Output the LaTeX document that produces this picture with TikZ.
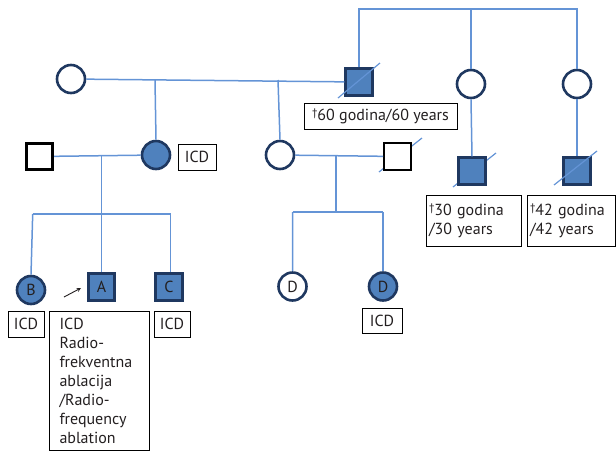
\documentclass[tikz,border=0pt]{standalone}
\usepackage{fontspec}
\setmainfont{PT Sans}
\definecolor{linec}{RGB}{100,148,214}
\definecolor{fillb}{RGB}{79,129,189}
\definecolor{navy}{RGB}{31,56,96}
\definecolor{txt}{RGB}{35,31,32}
\newcommand{\dg}{\raisebox{0.45ex}{\fontsize{11}{11}\selectfont †}}
\begin{document}
\begin{tikzpicture}[x=1pt,y=-1pt,
  conn/.style={draw=linec, line width=1.5pt},
  dec/.style={draw=linec, line width=1.2pt},
  fem/.style={circle, draw=navy, line width=2.6pt, minimum size=28pt, inner sep=0pt, fill=white, text=txt, font=\fontsize{16}{16}\selectfont},
  femA/.style={fem, fill=fillb},
  mal/.style={rectangle, draw=navy, line width=2.6pt, minimum size=26.5pt, inner sep=0pt, fill=white, text=txt, font=\fontsize{16}{16}\selectfont},
  malA/.style={mal, fill=fillb},
  lbl/.style={draw=black, line width=1pt, inner sep=0pt, text=txt, font=\fontsize{16}{19}\selectfont},
]
\useasboundingbox (0,0) rectangle (616,451);

% deceased marks hidden behind their symbols
\draw[dec] (379,172) -- (422,138);
\draw[dec] (453,187) -- (496,153);

% generation I
\node[fem] (c1) at (71,79) {};
\node[malA] (s1) at (359,82) {};
\node[fem] (c2) at (471,84) {};
\node[fem] (c3) at (577,84) {};
\coordinate (t1) at (359,9);
\coordinate (t3) at (577,9);
\coordinate (t2) at (471,9);
\draw[conn] (s1.north) -- (t1) -- (t3) -- (c3.north);
\draw[conn] (t2) -- (c2.north);
\draw[conn] (c1) -- (s1);
\draw[dec] (338,98) -- (380,63);
\node[lbl, minimum width=153pt, minimum height=26pt] (l60) at (380.5,116) {\dg60 godina/60 years};

% generation II
\node[mal, draw=black] (s2) at (39.5,156.5) {};
\node[femA] (c4) at (156,155) {};
\node[fem] (c5) at (280,155) {};
\node[mal, draw=black, line width=1.6pt, minimum size=27pt] (s3) at (397.5,156.5) {};
\node[malA] (s4) at (472,171) {};
\node[malA] (s5) at (577,171) {};
\coordinate (m1) at (155,80);
\coordinate (m2) at (278,80);
\draw[conn] (m1) -- (c4.north);
\draw[conn] (m2) -- (c5.north);
\draw[conn] (c2.south) -- (s4.north);
\draw[conn] (c3.south) -- (s5.north);
\draw[dec] (554,185) -- (597,151);
\node[lbl, minimum width=38pt, minimum height=26pt] (icd1) at (197,157) {ICD};
\node[lbl, minimum width=95pt, minimum height=51pt, text width=89pt, align=left] (l30) at (473.5,220.5) {\dg30 godina\\/30 years};
\node[lbl, minimum width=88pt, minimum height=51pt, text width=82pt, align=left] (l42) at (571,220.5) {\dg42 godina\\/42 years};

% marriages and sibships
\draw[conn] (s2) -- (c4);
\draw[conn] (c5) -- (s3);
\coordinate (d1) at (101.5,155);
\coordinate (e1) at (101.5,214);
\coordinate (d2) at (336,155);
\coordinate (e2) at (336,212);

% generation III
\node[femA] (B) at (31,290) {B};
\node[malA] (A) at (101.5,287) {A};
\node[malA] (C) at (169,287) {C};
\node[fem] (D1) at (292.5,286.5) {D};
\node[femA] (D2) at (383,286.5) {D};
\coordinate (bB) at (32.7,214);
\coordinate (bC) at (170.7,214);
\coordinate (bD1) at (292.7,212);
\coordinate (bD2) at (383,212);
\draw[conn] (d1) -- (e1);
\draw[conn] (bB) -- (bC);
\draw[conn] (bB) -- (B.north);
\draw[conn] (e1) -- (A.north);
\draw[conn] (bC) -- (bC |- C.north);
\draw[conn] (d2) -- (e2);
\draw[conn] (bD1) -- (bD2);
\draw[conn] (bD1) -- (D1.north);
\draw[conn] (bD2) -- (D2.north);

\coordinate (ar1) at (64,297);
\coordinate (ar2) at (81,288);
\draw[->, >=stealth, line width=0.9pt, draw=txt] (ar1) -- (ar2);

\node[lbl, minimum width=36pt, minimum height=26pt] (icdB) at (26,324) {ICD};
\node[lbl, minimum width=36pt, minimum height=26pt] (icdC) at (172,324) {ICD};
\node[lbl, minimum width=40pt, minimum height=25pt] (icdD) at (382,320.5) {ICD};
\node[lbl, minimum width=100pt, minimum height=139pt, text width=80pt, align=left, anchor=north west, inner xsep=10pt, inner ysep=0pt] (bigA) at (49,311) {ICD\\Radio-\\frekventna\\ablacija\\/Radio-\\frequency\\ablation};
\end{tikzpicture}
\end{document}
